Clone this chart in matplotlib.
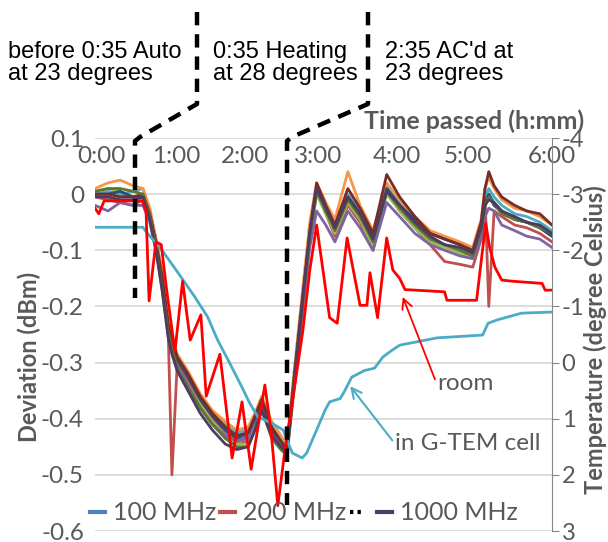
import matplotlib
matplotlib.use('Agg')
import matplotlib.pyplot as plt
from matplotlib.lines import Line2D

plt.rcParams['font.family'] = ['Lato', 'DejaVu Sans']

# elapsed time (h) shared by the frequency series
hours = [0.00, 0.17, 0.33, 0.50, 0.63, 0.72, 0.80, 0.88, 0.96, 1.01,
         1.08, 1.22, 1.38, 1.54, 1.71, 1.86, 2.01, 2.10, 2.19, 2.32,
         2.44, 2.52, 2.62, 2.73, 2.82, 2.91, 3.03, 3.15, 3.32, 3.48,
         3.65, 3.83, 4.00, 4.20, 4.40, 4.59, 4.79, 4.96, 5.07, 5.12,
         5.17, 5.24, 5.34, 5.51, 5.67, 5.84, 6.00]

# deviation (dBm) per frequency
s100 = [0.000, 0.002, -0.002, -0.005, -0.008, -0.045, -0.095, -0.16, -0.24, -0.27,
        -0.30, -0.33, -0.37, -0.40, -0.425, -0.44, -0.43, -0.405, -0.375, -0.425,
        -0.445, -0.46, -0.33, -0.19, -0.08, 0.005, -0.03, -0.065, -0.01, -0.04,
        -0.085, 0.01, -0.025, -0.055, -0.08, -0.09, -0.10, -0.115, -0.07, -0.02,
        0.0, -0.015, -0.03, -0.045, -0.05, -0.06, -0.075]
s200 = [-0.005, -0.01, -0.015, -0.02, -0.01, -0.03, -0.08, -0.14, -0.24, -0.50,
        -0.30, -0.33, -0.37, -0.40, -0.43, -0.445, -0.44, -0.41, -0.38, -0.43,
        -0.45, -0.465, -0.34, -0.20, -0.08, 0.005, -0.035, -0.075, -0.02, -0.05,
        -0.10, 0.005, -0.03, -0.06, -0.09, -0.12, -0.125, -0.13, -0.08, 0.0,
        -0.20, -0.03, -0.04, -0.055, -0.06, -0.07, -0.085]
s300 = [0.005, 0.01, 0.005, -0.005, -0.01, -0.05, -0.10, -0.17, -0.25, -0.28,
        -0.31, -0.34, -0.375, -0.405, -0.43, -0.445, -0.445, -0.415, -0.38, -0.43,
        -0.45, -0.46, -0.33, -0.19, -0.08, 0.0, -0.035, -0.07, -0.015, -0.045,
        -0.095, 0.0, -0.03, -0.06, -0.085, -0.095, -0.105, -0.115, -0.075, -0.02,
        -0.005, -0.02, -0.035, -0.045, -0.05, -0.06, -0.07]
s400 = [-0.02, -0.03, -0.015, -0.02, -0.02, -0.05, -0.10, -0.16, -0.245, -0.275,
        -0.305, -0.34, -0.38, -0.41, -0.43, -0.44, -0.435, -0.405, -0.375, -0.425,
        -0.445, -0.455, -0.33, -0.20, -0.095, -0.03, -0.055, -0.085, -0.03, -0.06,
        -0.10, -0.015, -0.04, -0.07, -0.09, -0.10, -0.11, -0.115, -0.08, -0.04,
        -0.025, -0.03, -0.055, -0.065, -0.075, -0.08, -0.095]
s500 = [0.0, 0.005, 0.0, 0.005, 0.01, -0.03, -0.085, -0.145, -0.23, -0.26,
        -0.29, -0.32, -0.36, -0.39, -0.41, -0.425, -0.42, -0.395, -0.37, -0.415,
        -0.435, -0.45, -0.31, -0.17, -0.06, 0.01, -0.02, -0.055, 0.0, -0.03,
        -0.075, 0.015, -0.015, -0.045, -0.07, -0.08, -0.09, -0.10, -0.05, -0.005,
        0.01, -0.005, -0.02, -0.035, -0.04, -0.05, -0.065]
s600 = [0.01, 0.02, 0.025, 0.015, 0.01, -0.025, -0.08, -0.14, -0.225, -0.255,
        -0.285, -0.315, -0.355, -0.385, -0.405, -0.42, -0.415, -0.39, -0.36, -0.405,
        -0.43, -0.445, -0.31, -0.165, -0.05, 0.02, -0.015, -0.045, 0.04, -0.02,
        -0.065, 0.02, -0.01, -0.04, -0.065, -0.075, -0.085, -0.095, -0.045, 0.01,
        0.03, 0.01, -0.01, -0.025, -0.03, -0.04, -0.055]
s700 = [0.0, 0.0, 0.005, -0.005, -0.005, -0.04, -0.09, -0.15, -0.235, -0.265,
        -0.295, -0.325, -0.365, -0.395, -0.42, -0.435, -0.425, -0.40, -0.37, -0.42,
        -0.44, -0.455, -0.32, -0.18, -0.07, 0.01, -0.03, -0.06, -0.005, -0.035,
        -0.08, 0.01, -0.02, -0.045, -0.07, -0.08, -0.09, -0.105, -0.06, -0.015,
        0.0, -0.02, -0.03, -0.045, -0.05, -0.06, -0.075]
s800 = [0.0, 0.0, -0.005, -0.005, 0.0, -0.035, -0.085, -0.145, -0.23, -0.26,
        -0.29, -0.32, -0.36, -0.39, -0.415, -0.43, -0.425, -0.395, -0.365, -0.415,
        -0.44, -0.455, -0.32, -0.18, -0.065, 0.02, -0.02, -0.055, 0.01, -0.025,
        -0.07, 0.035, -0.005, -0.04, -0.07, -0.08, -0.09, -0.10, -0.05, 0.01,
        0.04, 0.015, -0.005, -0.02, -0.03, -0.035, -0.055]
s900 = [0.005, 0.01, 0.01, 0.005, 0.0, -0.04, -0.095, -0.165, -0.245, -0.275,
        -0.31, -0.345, -0.38, -0.41, -0.435, -0.45, -0.45, -0.42, -0.385, -0.435,
        -0.455, -0.465, -0.33, -0.19, -0.075, 0.005, -0.03, -0.065, -0.01, -0.04,
        -0.085, 0.005, -0.025, -0.055, -0.08, -0.09, -0.10, -0.11, -0.065, -0.02,
        -0.005, -0.015, -0.035, -0.045, -0.05, -0.06, -0.07]
s1000 = [-0.005, -0.005, -0.01, -0.01, -0.005, -0.045, -0.10, -0.17, -0.255, -0.285,
         -0.315, -0.35, -0.39, -0.42, -0.445, -0.455, -0.45, -0.42, -0.385, -0.43,
         -0.45, -0.46, -0.33, -0.185, -0.07, 0.01, -0.025, -0.06, -0.005, -0.035,
         -0.08, 0.005, -0.02, -0.05, -0.075, -0.09, -0.095, -0.105, -0.06, -0.02,
         -0.01, -0.015, -0.03, -0.04, -0.05, -0.055, -0.07]

freq_labels = ['100 MHz', '200 MHz', '300 MHz', '400 MHz', '500 MHz',
               '600 MHz', '700 MHz', '800 MHz', '900 MHz', '1000 MHz']
freq_series = [s100, s200, s300, s400, s500, s600, s700, s800, s900, s1000]
freq_colors = ['#4F81BD', '#C0504D', '#9BBB59', '#8064A2', '#4BACC6',
               '#F79646', '#2C4D75', '#772C2A', '#5F7530', '#4D3B62']

# temperature (degree Celsius), right axis
room_hours = [0.00, 0.05, 0.12, 0.62, 0.67, 0.71, 0.80, 0.87, 0.94, 1.05,
              1.15, 1.25, 1.39, 1.46, 1.64, 1.80, 1.93, 2.05, 2.23, 2.31,
              2.40, 2.49, 2.61, 2.73, 2.82, 2.91, 3.08, 3.18, 3.31, 3.48,
              3.57, 3.61, 3.71, 3.83, 3.91, 4.00, 4.07, 4.59, 4.62, 5.01,
              5.07, 5.13, 5.18, 5.25, 5.34, 5.47, 5.87, 5.91, 6.00]
room_temp = [-2.75, -2.65, -2.88, -2.88, -2.70, -1.10, -2.15, -2.10, -1.30, -0.20,
             -1.45, -0.40, -0.85, 0.60, -0.15, 1.70, 0.70, 1.90, 0.40, 1.20,
             2.55, 1.60, 0.53, -0.58, -1.65, -2.45, -0.80, -0.70, -2.22, -1.02,
             -1.02, -1.60, -0.80, -2.22, -1.65, -1.50, -1.30, -1.26, -1.11, -1.11,
             -1.80, -2.48, -2.06, -1.70, -1.47, -1.45, -1.41, -1.29, -1.29]

gtem_hours = [0.00, 0.63, 0.66, 0.88, 1.09, 1.31, 1.48, 1.61, 1.75, 1.93,
              2.03, 2.14, 2.32, 2.47, 2.59, 2.72, 2.78, 2.91, 3.02, 3.08,
              3.22, 3.28, 3.37, 3.54, 3.67, 3.78, 3.90, 4.00, 4.49, 5.09,
              5.16, 5.28, 5.60, 6.00]
gtem_temp = [-2.41, -2.41, -2.35, -2.0, -1.6, -1.17, -0.81, -0.4, -0.04, 0.44,
             0.72, 0.97, 1.08, 1.2, 1.61, 1.7, 1.61, 1.2, 0.85, 0.7,
             0.64, 0.5, 0.26, 0.14, 0.1, -0.1, -0.22, -0.31, -0.44, -0.49,
             -0.7, -0.76, -0.88, -0.9]

time_ticks = [0.08, 1.06, 1.97, 2.93, 3.96, 4.89, 6.0]
time_labels = ['0:00', '1:00', '2:00', '3:00', '4:00', '5:00', '6:00']
dev_ticks = [0.1, 0.0, -0.1, -0.2, -0.3, -0.4, -0.5, -0.6]
dev_labels = ['0.1', '0', '-0.1', '-0.2', '-0.3', '-0.4', '-0.5', '-0.6']
temp_ticks = [-4, -3, -2, -1, 0, 1, 2, 3]
temp_labels = ['-4', '-3', '-2', '-1', '0', '1', '2', '3']

GRAY = '#595959'
W, H = 608, 542


def fx(x):
    return x / W


def fy(y):
    return 1 - y / H


fig = plt.figure(figsize=(6.08, 5.42), dpi=100)
ax = fig.add_axes([fx(95), fy(531), 457 / W, 393 / H])
ax.set_xlim(0, 6)
ax.set_ylim(-0.6, 0.1)

lines = []
for vals, lab, col in zip(freq_series, freq_labels, freq_colors):
    ln, = ax.plot(hours, vals, color=col, lw=2.0, label=lab)
    lines.append(ln)

ax.set_yticks(dev_ticks)
ax.set_yticklabels(dev_labels)
ax.yaxis.grid(True, color='#D9D9D9', lw=1.3)
ax.set_axisbelow(True)
for sp in ax.spines.values():
    sp.set_visible(False)
ax.tick_params(axis='y', length=0, labelsize=17.5, labelcolor=GRAY, pad=8)

ax.xaxis.tick_top()
ax.set_xticks(time_ticks)
ax.set_xticklabels(time_labels)
ax.tick_params(axis='x', length=0, labelsize=17.5, labelcolor=GRAY, pad=-21)

ax.set_ylabel('Deviation (dBm)', fontsize=17, fontweight='bold', color=GRAY)
ax.yaxis.set_label_coords(-0.118, 0.443)

ax2 = ax.twinx()
ax2.set_ylim(3, -4)
ax2.plot(gtem_hours, gtem_temp, color='#4BACC6', lw=2.0)
ax2.plot(room_hours, room_temp, color='#FF0000', lw=2.0)
ax2.set_yticks(temp_ticks)
ax2.set_yticklabels(temp_labels)
for name, sp in ax2.spines.items():
    sp.set_visible(name == 'right')
ax2.spines['right'].set_color('#868686')
ax2.tick_params(axis='y', length=5, color='#868686', labelsize=17,
                labelcolor=GRAY, pad=2)
ax2.set_ylabel('Temperature (degree Celsius)', fontsize=17, fontweight='bold',
               color=GRAY)
ax2.yaxis.set_label_coords(1.068, 0.486)

ax2.annotate('room', xy=(4.04, -1.17), xytext=(4.50, 0.37), color=GRAY,
             fontsize=17.5, ha='left', va='center',
             arrowprops=dict(arrowstyle='->', color='#FF0000', lw=1.3,
                             shrinkA=0, shrinkB=0, mutation_scale=18,
                             relpos=(0, 0.35)))
ax2.annotate('in G-TEM cell', xy=(3.35, 0.42), xytext=(3.94, 1.45), color=GRAY,
             fontsize=17.5, ha='left', va='center',
             arrowprops=dict(arrowstyle='->', color='#4BACC6', lw=1.5,
                             shrinkA=0, shrinkB=0, mutation_scale=18,
                             relpos=(0, 0.5)))

dots = Line2D([], [], color='black', lw=3, ls=(0, (0.8, 1.0)))
leg = ax2.legend([lines[0], lines[1], dots, lines[9]],
                 ['100 MHz', '200 MHz', '', '1000 MHz'],
                 ncol=4, loc='center left', bbox_to_anchor=(-0.011, 0.046),
                 frameon=False, fontsize=18, labelcolor=GRAY,
                 handlelength=0.6, handletextpad=0.32, columnspacing=0.15,
                 borderpad=0, borderaxespad=0)
for h in leg.legend_handles[:2] + leg.legend_handles[3:]:
    h.set_linewidth(3)

fig.text(fx(474), fy(121), 'Time passed (h:mm)', ha='center', va='center',
         fontsize=18, fontweight='bold', color=GRAY)

note_kw = dict(ha='left', va='center', fontsize=17, color='black',
               family='Liberation Sans', linespacing=1.05)
fig.text(fx(8), fy(63), 'before 0:35 Auto\nat 23 degrees', **note_kw)
fig.text(fx(213), fy(63), '0:35 Heating\nat 28 degrees', **note_kw)
fig.text(fx(385), fy(63), "2:35 AC'd at\n23 degrees", **note_kw)

# dashed event markers (0:35 and 2:35)
marker_paths = [[(197, 12), (197, 104), (140, 137), (135, 141), (135, 298)],
                [(368, 12), (368, 104), (292, 137), (287, 141), (287, 505)]]
for path in marker_paths:
    fig.add_artist(Line2D([fx(p[0]) for p in path], [fy(p[1]) for p in path],
                          color='black', lw=3.2, ls=(0, (3, 2))))

fig.savefig('out.png', dpi=100)
